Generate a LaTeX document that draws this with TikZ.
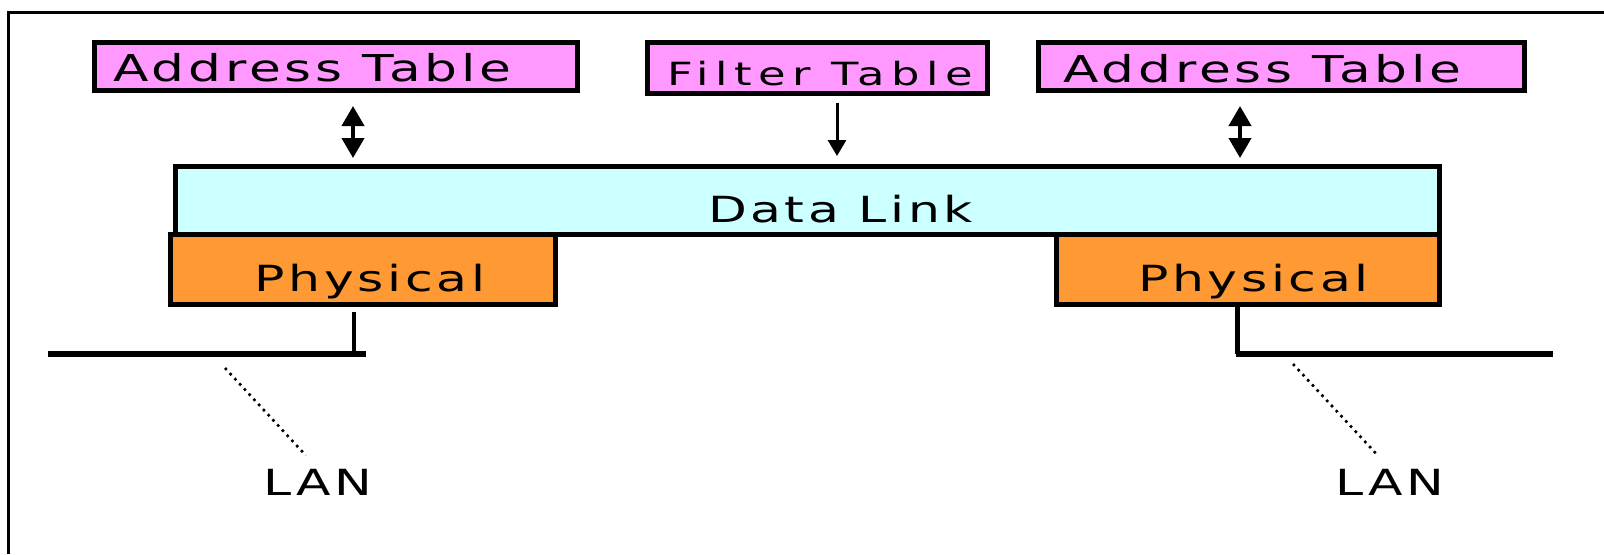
\documentclass[tikz,border=0pt]{standalone}
\usepackage{fontspec}
\newfontfamily\pixfont[FakeStretch=1.4,LetterSpace=10]{DejaVu Sans}
\newfontfamily\pixwide[FakeStretch=1.4,LetterSpace=20]{DejaVu Sans}
\usetikzlibrary{arrows.meta}
\newcommand{\px}{0.5pt}
\definecolor{tablepink}{RGB}{255,153,255}
\definecolor{linkcyan}{RGB}{204,255,255}
\definecolor{physorange}{RGB}{255,153,51}

\begin{document}
\begin{tikzpicture}[x=\px,y=-\px,
    box/.style={draw, rectangle, line width=2.5pt, inner sep=0pt},
    txt/.style={inner sep=0pt, text height=13pt, text depth=0pt, font=\pixfont\fontsize{18pt}{20pt}\selectfont},
    dbl/.style={line width=2pt, {Triangle[length=10pt,width=11pt]}-{Triangle[length=10pt,width=11pt]}},
    one/.style={line width=1.5pt, -{Triangle[length=8pt,width=9pt]}},
    bus/.style={line width=3pt},
    leader/.style={line width=1.3pt, dash pattern=on 1.3pt off 2.2pt}]
    \useasboundingbox (0,0) rectangle (1604,554);
    \draw[line width=1.5pt] (8,554) -- (8,12) -- (1604,12);

    % Tables
    \node[box, fill=tablepink, minimum width=483*\px, minimum height=48*\px,
        label={[txt, font=\pixfont\fontsize{18.5pt}{21pt}\selectfont, text height=13.5pt, xshift=-11.75pt, yshift=-0.75pt]center:Address Table}] (addr-l) at (336,66.5) {};
    \node[box, fill=tablepink, minimum width=340*\px, minimum height=51*\px,
        label={[txt, font=\pixwide\fontsize{16pt}{18pt}\selectfont, text height=11.5pt, xshift=1.5pt, yshift=-2.75pt]center:Filter Table}] (filt) at (817.5,68) {};
    \node[box, fill=tablepink, minimum width=486*\px, minimum height=48*\px,
        label={[txt, font=\pixfont\fontsize{18.5pt}{21pt}\selectfont, text height=13.5pt, xshift=-9.5pt, yshift=-1pt]center:Address Table}] (addr-r) at (1281.5,66.5) {};

    % Layers
    \node[box, fill=linkcyan, minimum width=1264*\px, minimum height=67.5*\px,
        label={[txt, xshift=16.5pt, yshift=-4.5pt]center:Data Link}] (dlink) at (807.5,200.25) {};
    \node[box, fill=physorange, minimum width=385*\px, minimum height=70.5*\px,
        label={[txt, xshift=3.5pt, yshift=-4.75pt]center:Physical}] (phys-l) at (363,269.25) {};
    \node[box, fill=physorange, minimum width=383*\px, minimum height=70.5*\px,
        label={[txt, xshift=2.75pt, yshift=-4.75pt]center:Physical}] (phys-r) at (1248,269.25) {};

    % Arrows
    \draw[dbl, shorten <=6.5pt, shorten >=3pt] ([xshift=8.5pt]addr-l.south) -- ([xshift=8.5pt]addr-l.south |- dlink.north);
    \draw[one, shorten <=3.5pt, shorten >=4pt] ([xshift=9.75pt]filt.south) -- ([xshift=9.75pt]filt.south |- dlink.north);
    \draw[dbl, shorten <=6.5pt, shorten >=3pt] ([xshift=-20.75pt]addr-r.south) -- ([xshift=-20.75pt]addr-r.south |- dlink.north);

    % LANs
    \coordinate (tap-l) at (354,354);
    \coordinate (tap-r) at (1237,354);
    \draw[bus] (48,354) -- (366,354);
    \draw[line width=2pt, shorten <=2.5pt] (phys-l.south -| tap-l) -- (tap-l);
    \draw[line width=2.5pt] (phys-r.south -| tap-r) -- (tap-r);
    \draw[bus] (1235.5,354) -- (1553,354);

    \node[txt] (lan-l) at (318,482) {LAN};
    \node[txt] (lan-r) at (1390,482) {LAN};
    \coordinate (lead-l) at (225,368);
    \coordinate (lead-r) at (1293,364);
    \draw[leader, shorten >=9pt] (lead-l) -- (lan-l.north);
    \draw[leader, shorten >=10pt] (lead-r) -- (lan-r.north);
\end{tikzpicture}
\end{document}
